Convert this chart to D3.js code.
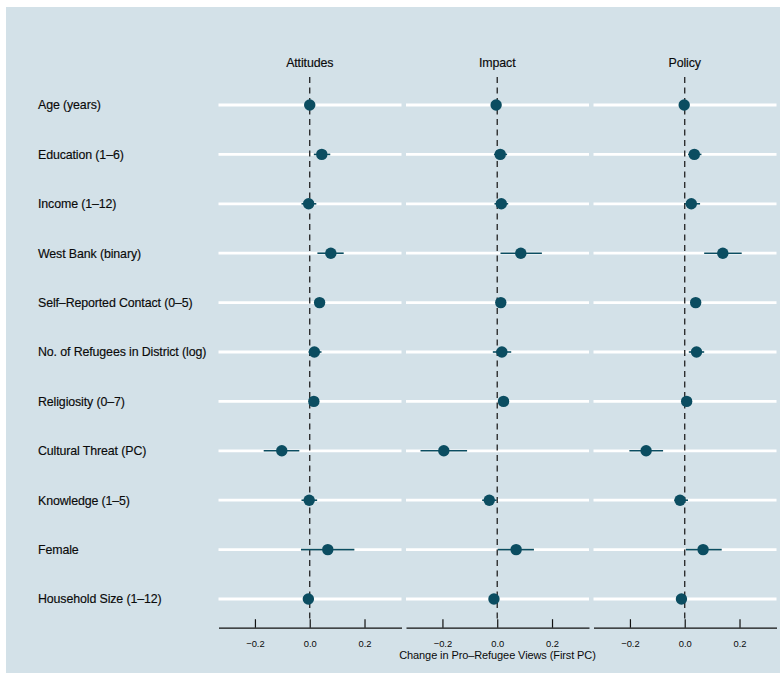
<!DOCTYPE html>
<html>
<head>
<meta charset="utf-8">
<script src="https://cdn.jsdelivr.net/npm/d3@7"></script>
<style>
  html, body { margin: 0; padding: 0; background: #ffffff; }
  svg { display: block; font-family: "Liberation Sans", Arial, Helvetica, sans-serif; }
</style>
</head>
<body>
<svg id="chart" width="780" height="677"></svg>
<script>
// Covariates (rows, top to bottom)
const covariates = [
  "Age (years)",
  "Education (1–6)",
  "Income (1–12)",
  "West Bank (binary)",
  "Self–Reported Contact (0–5)",
  "No. of Refugees in District (log)",
  "Religiosity (0–7)",
  "Cultural Threat (PC)",
  "Knowledge (1–5)",
  "Female",
  "Household Size (1–12)"
];

// Outcome panels
const outcomes = ["Attitudes", "Impact", "Policy"];

// Point estimates per outcome
const attitudesEst = [0.000, 0.044, -0.004, 0.077, 0.036, 0.017, 0.015, -0.102, -0.002, 0.066, -0.005];
const impactEst    = [-0.004, 0.011, 0.015, 0.086, 0.013, 0.017, 0.023, -0.195, -0.029, 0.069, -0.012];
const policyEst    = [-0.002, 0.035, 0.024, 0.139, 0.040, 0.043, 0.007, -0.141, -0.017, 0.067, -0.012];

// Confidence interval bounds per outcome
const attitudesLo = [-0.008, 0.015, -0.030, 0.028, 0.030, -0.004, 0.008, -0.168, -0.030, -0.032, -0.012];
const attitudesHi = [0.008, 0.075, 0.024, 0.124, 0.043, 0.043, 0.022, -0.038, 0.027, 0.163, 0.002];
const impactLo    = [-0.012, -0.012, -0.010, 0.012, 0.006, -0.016, 0.016, -0.280, -0.055, 0.002, -0.019];
const impactHi    = [0.004, 0.036, 0.040, 0.163, 0.020, 0.051, 0.030, -0.110, -0.002, 0.134, -0.005];
const policyLo    = [-0.009, 0.012, 0.000, 0.071, 0.033, 0.015, 0.000, -0.202, -0.038, 0.004, -0.019];
const policyHi    = [0.005, 0.061, 0.056, 0.208, 0.047, 0.071, 0.014, -0.079, 0.012, 0.135, -0.005];

// Axis ticks
const tickValues = [-0.2, 0.0, 0.2];
const xDomain = [-0.333, 0.335];

const axisTitle = "Change in Pro–Refugee Views (First PC)";

const estimates = [attitudesEst, impactEst, policyEst];
const lows = [attitudesLo, impactLo, policyLo];
const highs = [attitudesHi, impactHi, policyHi];

const svg = d3.select("#chart");

const colors = {
  bg: "#d3e1e8",
  grid: "#ffffff",
  point: "#0b4d61",
  text: "#0a0a0a"
};

// Shaded plotting background
svg.append("rect")
  .attr("x", 6).attr("y", 7)
  .attr("width", 774).attr("height", 666)
  .attr("fill", colors.bg);

// Layout
const panelLeft = [218.5, 406, 593.5];
const panelWidth = 183;
const rowTop = 105, rowBottom = 599;
const axisY = 627.7;

const y = d3.scalePoint()
  .domain(covariates)
  .range([rowTop, rowBottom]);

// Row labels
svg.append("g")
  .selectAll("text")
  .data(covariates)
  .join("text")
  .attr("x", 38)
  .attr("y", d => y(d))
  .attr("dy", "0.35em")
  .attr("font-size", 12.4)
  .attr("letter-spacing", -0.12)
  .attr("fill", colors.text)
  .attr("stroke", colors.text)
  .attr("stroke-width", 0.15)
  .text(d => d);

outcomes.forEach((name, p) => {
  const x = d3.scaleLinear()
    .domain(xDomain)
    .range([panelLeft[p], panelLeft[p] + panelWidth]);

  const g = svg.append("g");

  // Horizontal white reference lines per covariate
  g.append("g")
    .selectAll("line")
    .data(covariates)
    .join("line")
    .attr("x1", x.range()[0])
    .attr("x2", x.range()[1])
    .attr("y1", d => y(d))
    .attr("y2", d => y(d))
    .attr("stroke", colors.grid)
    .attr("stroke-width", 2.8);

  // Zero reference line
  g.append("line")
    .attr("x1", x(0)).attr("x2", x(0))
    .attr("y1", 77).attr("y2", 619)
    .attr("stroke", "#222")
    .attr("stroke-width", 1.3)
    .attr("stroke-dasharray", "6,4.5");

  // Panel title
  g.append("text")
    .attr("x", x(0))
    .attr("y", 63)
    .attr("dy", "0.35em")
    .attr("text-anchor", "middle")
    .attr("font-size", 12.4)
    .attr("letter-spacing", -0.12)
    .attr("fill", colors.text)
    .attr("stroke", colors.text)
    .attr("stroke-width", 0.15)
    .text(name);

  const rows = covariates.map((c, i) => ({
    c, est: estimates[p][i], lo: lows[p][i], hi: highs[p][i]
  }));

  // Confidence intervals
  g.append("g")
    .selectAll("line")
    .data(rows)
    .join("line")
    .attr("x1", d => x(d.lo))
    .attr("x2", d => x(d.hi))
    .attr("y1", d => y(d.c))
    .attr("y2", d => y(d.c))
    .attr("stroke", colors.point)
    .attr("stroke-width", 1.6);

  // Point estimates
  g.append("g")
    .selectAll("circle")
    .data(rows)
    .join("circle")
    .attr("cx", d => x(d.est))
    .attr("cy", d => y(d.c))
    .attr("r", 5.7)
    .attr("fill", colors.point);

  // Bottom axis
  const axis = d3.axisBottom(x)
    .tickValues(tickValues)
    .tickFormat(d3.format(".1f"))
    .tickSizeInner(-8.5)
    .tickSizeOuter(0)
    .tickPadding(12.5);

  const ax = g.append("g")
    .attr("transform", `translate(0,${axisY})`)
    .call(axis);
  ax.select(".domain").attr("stroke", "#111").attr("stroke-width", 1.2);
  ax.selectAll(".tick line").attr("stroke", "#111").attr("stroke-width", 1.2);
  ax.selectAll(".tick text")
    .attr("font-size", 9.4)
    .attr("font-family", "\"Liberation Sans\", Arial, sans-serif")
    .attr("fill", colors.text);
});

// Shared x-axis title
svg.append("text")
  .attr("x", 497.5)
  .attr("y", 655.5)
  .attr("dy", "0.35em")
  .attr("text-anchor", "middle")
  .attr("font-size", 11)
  .attr("letter-spacing", -0.1)
  .attr("fill", colors.text)
  .text(axisTitle);
</script>
</body>
</html>
